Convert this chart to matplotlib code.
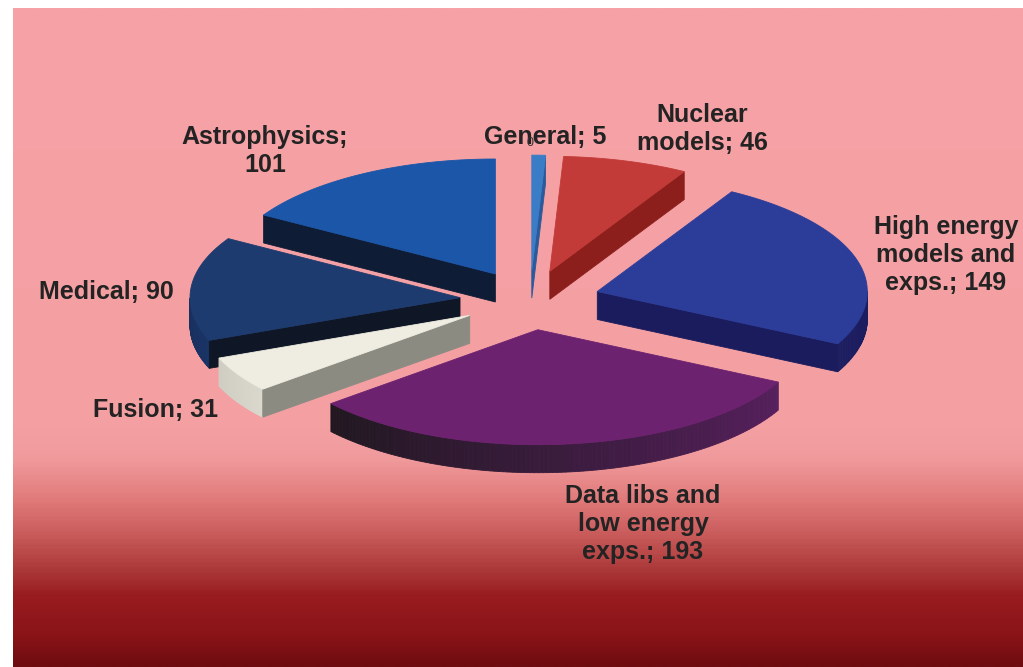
import numpy as np
import matplotlib.pyplot as plt
from matplotlib.patches import Polygon
from matplotlib.colors import LinearSegmentedColormap, to_rgb

# Data (clockwise from 12 o'clock)
categories = ['General', 'Nuclear models', 'High energy models and exps.',
              'Data libs and low energy exps.', 'Fusion', 'Medical', 'Astrophysics']
values = [5, 46, 149, 193, 31, 90, 101]
label_text = ['General; 5', 'Nuclear\nmodels; 46', 'High energy\nmodels and\nexps.; 149',
              'Data libs and\nlow energy\nexps.; 193', 'Fusion; 31', 'Medical; 90',
              'Astrophysics;\n101']

# Styles
top_colors = ['#3b7cc6', '#c23b38', '#2b3d99', '#6d2270', '#efede2', '#1d3b6e', '#1b56a8']
side_colors = ['#2a5a9a', '#8c1f1c', '#1b1c5e', '#3a1540', '#8b8b82', '#0f1626', '#0e1c36']
# wall shading: (colour at slice end, colour at slice start)
wall_colors = [('#2a5a9a', '#2a5a9a'), ('#8c1f1c', '#8c1f1c'), ('#1c1e62', '#1a1a55'),
               ('#201820', '#56205d'), ('#cfcdc2', '#dad8cd'), ('#15294f', '#1a3466'),
               ('#0e1c36', '#0e1c36')]
label_pos = [(545, 137), (702, 129), (946, 255), (643, 524), (156, 410), (106, 292), (265, 151)]

W, H = 1023, 667
cx, cy = 530, 300
rx, ry = 270, 115
depth = 28
explode = 0.26

fig = plt.figure(figsize=(W / 100, H / 100), dpi=100)
fig.patch.set_facecolor('white')
ax = fig.add_axes([0, 0, 1, 1])
ax.set_xlim(0, W)
ax.set_ylim(H, 0)
ax.axis('off')

# background gradient panel
stops = [(8, '#f6a2a6'), (430, '#f4a0a3'), (460, '#f09a9c'), (503, '#e07878'),
         (537, '#c85a5a'), (570, '#ad3a3a'), (597, '#981c20'), (637, '#8a1418'), (667, '#6e0c10')]
y0, y1 = stops[0][0], stops[-1][0]
cmap = LinearSegmentedColormap.from_list(
    'bg', [((y - y0) / (y1 - y0), c) for y, c in stops])
grad = np.linspace(0, 1, 400).reshape(-1, 1)
ax.imshow(grad, cmap=cmap, aspect='auto', extent=[13, W, y1, y0], zorder=0,
          interpolation='bilinear')


def proj(tip, theta, r=1.0, dz=0.0):
    t = np.radians(theta)
    return (tip[0] + r * rx * np.cos(t), tip[1] - r * ry * np.sin(t) + dz)


def mix(c1, c2, f):
    a, b = np.array(to_rgb(c1)), np.array(to_rgb(c2))
    return tuple(a + (b - a) * f)


def quad(pts, color, z):
    ax.add_patch(Polygon(pts, closed=True, facecolor=color, edgecolor=color,
                         linewidth=0.6, zorder=z))


total = sum(values)
spans = [v / total * 360 for v in values]
starts = 90 - np.concatenate([[0], np.cumsum(spans)[:-1]])

# paint back-to-front
order = np.argsort([-np.sin(np.radians(s - sp / 2)) for s, sp in zip(starts, spans)])
for rank, i in enumerate(order):
    th1 = starts[i]
    th2 = th1 - spans[i]
    mid = (th1 + th2) / 2
    tip = (cx + explode * rx * np.cos(np.radians(mid)),
           cy - explode * ry * np.sin(np.radians(mid)))
    z = 10 + rank * 5

    # outer wall (front half only)
    ths = np.linspace(th2, th1, 120)
    for a, b in zip(ths[:-1], ths[1:]):
        m = (a + b) / 2
        if np.sin(np.radians(m)) < 0:
            col = mix(wall_colors[i][0], wall_colors[i][1], (m - th2) / (th1 - th2))
            pts = [proj(tip, a), proj(tip, b), proj(tip, b, dz=depth), proj(tip, a, dz=depth)]
            quad(pts, col, z)

    # radial cut faces
    if np.cos(np.radians(th1)) < -1e-6:
        pts = [tip, proj(tip, th1), proj(tip, th1, dz=depth), (tip[0], tip[1] + depth)]
        quad(pts, side_colors[i], z + 1)
    if np.cos(np.radians(th2)) > 1e-6:
        pts = [tip, proj(tip, th2), proj(tip, th2, dz=depth), (tip[0], tip[1] + depth)]
        quad(pts, side_colors[i], z + 1)

    # top face
    arc = [proj(tip, t) for t in np.linspace(th1, th2, 80)]
    quad([tip] + arc, top_colors[i], z + 2)

# labels
for txt, (x, y) in zip(label_text, label_pos):
    ax.text(x, y, txt, ha='center', va='center', fontsize=18, fontweight='bold',
            family='Liberation Sans', color='#232323', linespacing=1.2, zorder=100)
# stray zero label sitting inside "General; 5" in the original
ax.text(530, 143, '0', ha='center', va='center', fontsize=9, family='Liberation Sans',
        color='#333333', zorder=101)

fig.savefig('out.png', dpi=100)
